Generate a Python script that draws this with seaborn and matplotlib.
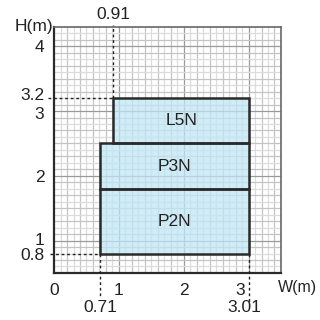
import numpy as np
import matplotlib
matplotlib.use("Agg")
import matplotlib.pyplot as plt
import matplotlib.transforms as mtransforms
import seaborn as sns

# frame sizes (m)
names = ["P2N", "P3N", "L5N"]
left = [0.71, 0.71, 0.91]
right = [3.01, 3.01, 3.01]
bottom = [0.8, 1.8, 2.5]
top = [1.8, 2.5, 3.2]

x_ticks = [0, 1, 2, 3]
y_ticks = [0.8, 1, 2, 3, 3.2, 4]
y_tick_labels = ["0.8", "1", "2", "3", "3.2", "4"]

sns.set_theme(style="white")
plt.rcParams["font.family"] = ["Liberation Sans", "DejaVu Sans"]
fs = 12.5

fig = plt.figure(figsize=(3.2, 3.2), dpi=100)
ax = fig.add_axes([0.169, 0.147, 0.709, 0.769])

ax.set_xlim(0, 3.5)
ax.set_ylim(0.5, 4.3)

# graph paper grid
for i, v in enumerate(np.arange(0.1, 3.5, 0.1)):
    c = "#9a9a9a" if abs(v - round(v)) < 1e-6 else ("#c4c4c4" if i % 2 else "#dcdcdc")
    ax.axvline(v, color=c, lw=0.9, zorder=0)
for i, v in enumerate(np.arange(0.6, 4.3, 0.1)):
    c = "#9a9a9a" if abs(v - round(v)) < 1e-6 else ("#c4c4c4" if i % 2 else "#dcdcdc")
    ax.axhline(v, color=c, lw=0.9, zorder=0)

# boxes
w = [r - l for l, r in zip(left, right)]
h = [t - b for b, t in zip(bottom, top)]
ax.bar(left, h, width=w, bottom=bottom, align="edge",
       color="#bfe6f5", alpha=0.75, edgecolor="none", zorder=1)
ax.bar(left, h, width=w, bottom=bottom, align="edge",
       fill=False, edgecolor="#2a2a2a", lw=1.8, zorder=3)
for n, l, r, b, t in zip(names, left, right, bottom, top):
    ax.text((l + r) / 2, (b + t) / 2, n, ha="center", va="center",
            fontsize=fs, color="#222222", zorder=4)

# dashed guide lines
dk = dict(color="#222222", lw=1.0, ls=(0, (2, 2)), clip_on=False, zorder=4)
ax.plot([0.91, 0.91], [3.2, 4.33], **dk)
ax.plot([-0.09, 0.91], [3.2, 3.2], **dk)
ax.plot([-0.06, 0.71], [0.8, 0.8], **dk)
ax.plot([0.71, 0.71], [0.8, 0.12], **dk)
ax.plot([3.01, 3.01], [0.8, 0.05], **dk)

ax.text(0.91, 4.49, "0.91", ha="center", va="center", fontsize=fs, color="#222222")
ax.text(0.71, -0.03, "0.71", ha="center", va="center", fontsize=fs, color="#222222")
ax.text(2.93, -0.03, "3.01", ha="center", va="center", fontsize=fs, color="#222222")

ax.set_xticks(x_ticks)
ax.set_xticklabels([str(v) for v in x_ticks])
ax.set_yticks(y_ticks)
ax.set_yticklabels(y_tick_labels)
ax.tick_params(length=0, labelsize=fs, labelcolor="#222222", pad=7)


def nudge(lbl, dx, dy):
    off = mtransforms.ScaledTranslation(dx / 100, dy / 100, fig.dpi_scale_trans)
    lbl.set_transform(lbl.get_transform() + off)


xl = ax.get_xticklabels()
nudge(xl[3], -8, 0)
yl = ax.get_yticklabels()
nudge(yl[1], 0, 1.5)   # 1
nudge(yl[3], 0, -1.5)  # 3
nudge(yl[4], 0, 4)     # 3.2

ax.text(-0.02, 4.3, "H(m)", ha="right", va="center", fontsize=fs, color="#222222")
ax.text(4.05, 0.28, "W(m)", ha="right", va="center", fontsize=11.5, color="#222222")

for s in ["left", "bottom"]:
    ax.spines[s].set_color("#2a2a2a")
    ax.spines[s].set_linewidth(1.6)
for s in ["top", "right"]:
    ax.spines[s].set_color("#666666")
    ax.spines[s].set_linewidth(1.2)

fig.savefig("out.png", dpi=100)
